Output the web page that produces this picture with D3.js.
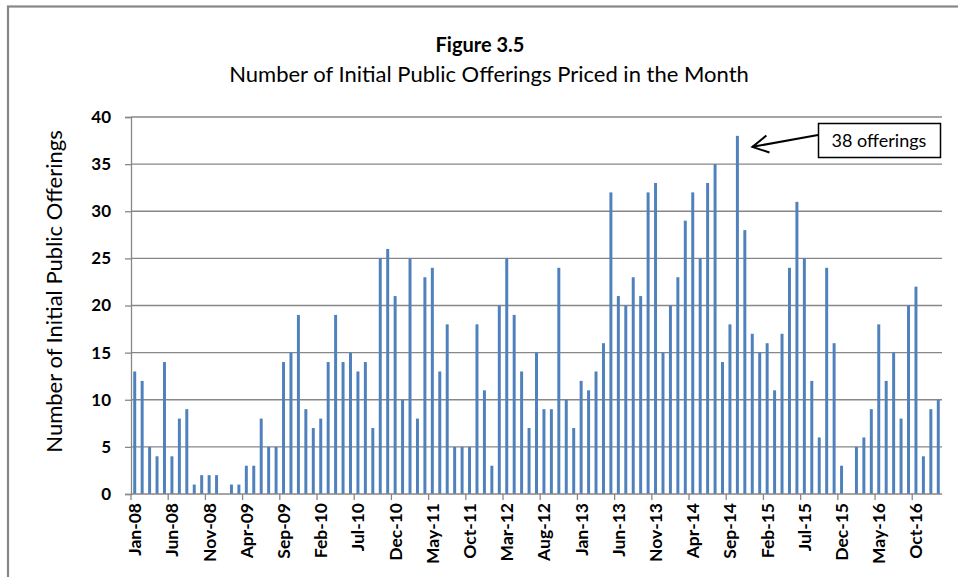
<!DOCTYPE html>
<html>
<head>
<meta charset="utf-8">
<script src="https://cdn.jsdelivr.net/npm/d3@7/dist/d3.min.js"></script>
<style>
  body { margin: 0; background: #fff; }
  svg { display: block; font-family: Lato, "Open Sans", sans-serif; }
  .grid line { stroke: #878787; stroke-width: 1.3; }
  .axis path, .axis line { stroke: #878787; stroke-width: 1.3; }
</style>
</head>
<body>
<div id="chart"></div>
<script>
// months Jan-08 .. Jan-17
var monthNames = ["Jan", "Feb", "Mar", "Apr", "May", "Jun", "Jul", "Aug", "Sep", "Oct", "Nov", "Dec"];
var years = ["08", "09", "10", "11", "12", "13", "14", "15", "16", "17"];

var ipo2008 = [13, 12, 5, 4, 14, 4, 8, 9, 1, 2, 2, 2];
var ipo2009 = [0, 1, 1, 3, 3, 8, 5, 5, 14, 15, 19, 9];
var ipo2010 = [7, 8, 14, 19, 14, 15, 13, 14, 7, 25, 26, 21];
var ipo2011 = [10, 25, 8, 23, 24, 13, 18, 5, 5, 5, 18, 11];
var ipo2012 = [3, 20, 25, 19, 13, 7, 15, 9, 9, 24, 10, 7];
var ipo2013 = [12, 11, 13, 16, 32, 21, 20, 23, 21, 32, 33, 15];
var ipo2014 = [20, 23, 29, 32, 25, 33, 35, 14, 18, 38, 28, 17];
var ipo2015 = [15, 16, 11, 17, 24, 31, 25, 12, 6, 24, 16, 3];
var ipo2016 = [0, 5, 6, 9, 18, 12, 15, 8, 20, 22, 4, 9];
var ipo2017 = [10];

var yTicks = [0, 5, 10, 15, 20, 25, 30, 35, 40];
var annotationText = "38 offerings";

var series = [ipo2008, ipo2009, ipo2010, ipo2011, ipo2012, ipo2013, ipo2014, ipo2015, ipo2016, ipo2017];
var data = [];
series.forEach(function (vals, yi) {
    vals.forEach(function (v, mi) {
        data.push({ month: monthNames[mi] + "-" + years[yi], value: v });
    });
});

var W = 958, H = 577;
var margin = { top: 117, right: 16, bottom: 83, left: 131 },
    width = W - margin.left - margin.right,
    height = H - margin.top - margin.bottom;

var svg = d3.select("#chart").append("svg")
    .attr("width", W)
    .attr("height", H);

// chart area border (runs off right and bottom)
svg.append("rect")
    .attr("x", 8).attr("y", 6.5)
    .attr("width", 980).attr("height", 700)
    .attr("fill", "none")
    .attr("stroke", "#878787")
    .attr("stroke-width", 2.2);

// titles
svg.append("text")
    .attr("x", 480).attr("y", 52)
    .attr("text-anchor", "middle")
    .style("font-weight", "bold")
    .style("font-size", "20px")
    .text("Figure 3.5");

svg.append("text")
    .attr("x", 489).attr("y", 82)
    .attr("text-anchor", "middle")
    .style("font-size", "22px")
    .text("Number of Initial Public Offerings Priced in the Month");

var g = svg.append("g")
    .attr("transform", "translate(" + margin.left + "," + margin.top + ")");

var xScale = d3.scaleBand()
    .domain(data.map(function (d) { return d.month; }))
    .range([0, width])
    .paddingInner(0.6)
    .paddingOuter(0.3);

var yScale = d3.scaleLinear().domain([0, 40]).range([height, 0]);

// gridlines
g.append("g")
    .attr("class", "grid")
    .selectAll("line")
    .data(yTicks.filter(function (t) { return t > 0; }))
    .enter().append("line")
    .attr("x1", 0).attr("x2", width)
    .attr("y1", function (d) { return yScale(d); })
    .attr("y2", function (d) { return yScale(d); });

// bars
g.selectAll(".bar")
    .data(data)
    .enter().append("rect")
    .attr("class", "bar")
    .attr("x", function (d) { return xScale(d.month); })
    .attr("width", xScale.bandwidth())
    .attr("y", function (d) { return yScale(d.value); })
    .attr("height", function (d) { return height - yScale(d.value); })
    .attr("fill", "#4F81BD");

// y axis
var yAxis = d3.axisLeft(yScale).tickValues(yTicks).tickSize(6).tickPadding(14);
var yg = g.append("g").attr("class", "axis").call(yAxis);
yg.selectAll("text")
    .style("font-size", "17px")
    .style("font-weight", "bold")
    .style("font-family", "Lato, sans-serif")
    .attr("fill", "#000");

// x axis: ticks at every 5th category boundary
var step = xScale.step();
var boundaries = d3.range(0, data.length + 1, 5);
var xg = g.append("g").attr("class", "axis")
    .attr("transform", "translate(0," + height + ")");
xg.append("line")
    .attr("x1", 0).attr("x2", width).attr("y1", 0).attr("y2", 0);
xg.selectAll(".tk")
    .data(boundaries)
    .enter().append("line")
    .attr("class", "tk")
    .attr("x1", function (i) { return i * step; })
    .attr("x2", function (i) { return i * step; })
    .attr("y1", 0).attr("y2", 6);

xg.selectAll(".xl")
    .data(data.filter(function (d, i) { return i % 5 === 0; }))
    .enter().append("text")
    .attr("class", "xl")
    .attr("transform", function (d) {
        return "translate(" + (xScale(d.month) + xScale.bandwidth() / 2 + 6.5) + ",9) rotate(-90)";
    })
    .attr("text-anchor", "end")
    .style("font-size", "17.5px")
    .style("font-weight", "bold")
    .text(function (d) { return d.month; });

// y axis title
svg.append("text")
    .attr("transform", "translate(62," + (margin.top + height / 2 - 14) + ") rotate(-90)")
    .attr("text-anchor", "middle")
    .style("font-size", "22px")
    .text("Number of Initial Public Offerings");

// annotation for the peak month
var peak = data.reduce(function (a, b) { return b.value > a.value ? b : a; });
var tipX = margin.left + xScale(peak.month) + xScale.bandwidth() / 2 + 15;
var tipY = margin.top + yScale(peak.value) + 11;
var startX = 818, startY = 135;

svg.append("line")
    .attr("x1", startX).attr("y1", startY)
    .attr("x2", tipX).attr("y2", tipY)
    .attr("stroke", "#000")
    .attr("stroke-width", 2);

// open arrow head
var ang = Math.atan2(startY - tipY, startX - tipX), armLen = 18, spread = 0.5;
var head = [ang - spread, ang + spread].map(function (a) {
    return [tipX + armLen * Math.cos(a), tipY + armLen * Math.sin(a)];
});
svg.append("path")
    .attr("d", "M" + head[0] + "L" + tipX + "," + tipY + "L" + head[1])
    .attr("fill", "none")
    .attr("stroke", "#000")
    .attr("stroke-width", 2);

svg.append("rect")
    .attr("x", 818.5).attr("y", 123.5)
    .attr("width", 122).attr("height", 34)
    .attr("fill", "#fff")
    .attr("stroke", "#000")
    .attr("stroke-width", 1.5);

svg.append("text")
    .attr("x", 879).attr("y", 147)
    .attr("text-anchor", "middle")
    .style("font-size", "18px")
    .text(annotationText);
</script>
</body>
</html>
